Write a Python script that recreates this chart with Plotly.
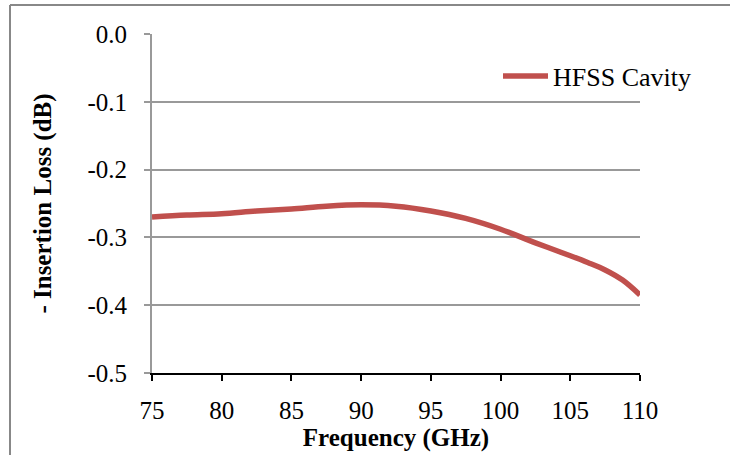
import plotly.graph_objects as go

freq = [75, 77.5, 80, 82.5, 85, 87.5, 90, 92.5, 95, 97.5, 100, 102.5, 105, 106.25, 107.5, 108.75, 110]
loss = [-0.270, -0.267, -0.265, -0.261, -0.258, -0.254, -0.252, -0.254, -0.261, -0.272,
        -0.288, -0.308, -0.327, -0.337, -0.348, -0.363, -0.385]
series_name = "HFSS Cavity"
x_ticks = [75, 80, 85, 90, 95, 100, 105, 110]
y_ticks = [0.0, -0.1, -0.2, -0.3, -0.4, -0.5]

font = "Liberation Serif, Times New Roman, serif"

fig = go.Figure()
fig.add_trace(go.Scatter(x=freq, y=loss, mode="lines", name=series_name,
                         line=dict(color="#C0504D", width=5.5, shape="spline", smoothing=1.0)))

L, R, T, B = 152, 640, 34, 373
W, H = 730, 455
def px(x):
    return (x - L) / (R - L)
def py(y):
    return (B - y) / (B - T)

fig.update_layout(
    width=W, height=H,
    margin=dict(l=L, r=W - R, t=T, b=H - B),
    paper_bgcolor="white", plot_bgcolor="white",
    font=dict(family=font, size=25, color="black"),
    showlegend=True,
    legend=dict(x=px(498), y=py(76), xanchor="left", yanchor="middle",
                bgcolor="rgba(0,0,0,0)", font=dict(size=26, family=font),
                itemwidth=45),
    xaxis=dict(range=[75, 110], tickvals=x_ticks, ticktext=[str(v) for v in x_ticks],
               showgrid=False, zeroline=False, showline=True, linecolor="black", linewidth=2,
               ticks="outside", ticklen=6, tickwidth=2, tickcolor="black",
               ticklabelstandoff=8, tickfont=dict(size=25, family=font),
               title=dict(text="<b>Frequency (GHz)</b>", font=dict(size=25, family=font), standoff=0)),
    yaxis=dict(range=[-0.5, 0.0], tickvals=y_ticks, ticktext=[f"{v:.1f}" for v in y_ticks],
               showgrid=True, gridcolor="#999999", gridwidth=2, zeroline=False,
               showline=True, linecolor="#999999", linewidth=2,
               ticks="outside", ticklen=6, tickwidth=2, tickcolor="#999999",
               ticklabelstandoff=12, tickfont=dict(size=25, family=font),
               title=dict(text="<b>- Insertion Loss (dB)</b>", font=dict(size=25, family=font), standoff=29)),
)

fig.add_shape(type="line", xref="paper", yref="paper", x0=px(10), x1=px(10), y0=py(455), y1=py(5),
              line=dict(color="#888888", width=2))
fig.add_shape(type="line", xref="paper", yref="paper", x0=px(10), x1=px(730), y0=py(5), y1=py(5),
              line=dict(color="#888888", width=2))

fig.write_html("out.html")
